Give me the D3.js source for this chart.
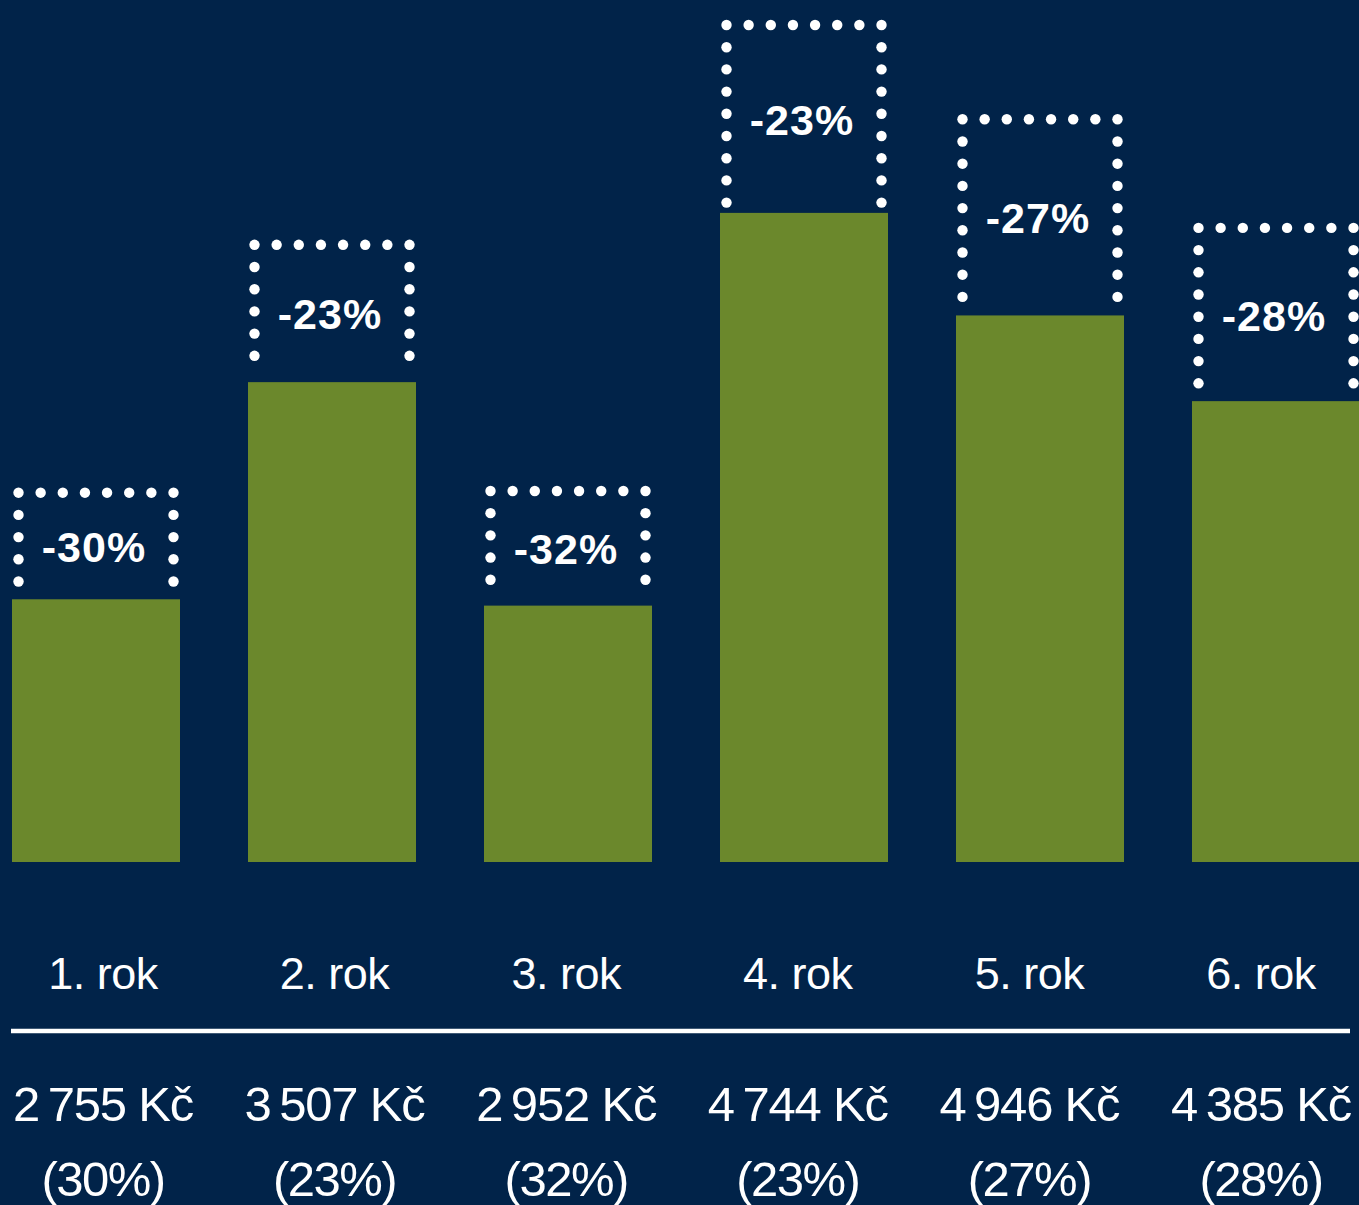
<!DOCTYPE html>
<html>
<head>
<meta charset="utf-8">
<script src="https://cdn.jsdelivr.net/npm/d3@7/dist/d3.min.js"></script>
<style>
  html, body { margin: 0; padding: 0; background: #012349; overflow: hidden; }
  svg { display: block; }
  text { font-family: "Liberation Sans", Arial, Helvetica, sans-serif; fill: #ffffff; }
</style>
</head>
<body>
<svg id="chart" width="1359" height="1205"></svg>
<script>
// ---- data ----
const categories = ["1. rok", "2. rok", "3. rok", "4. rok", "5. rok", "6. rok"];
const originalPrice = [9183, 15248, 9225, 20626, 18319, 15661];   // price before discount (Kč)
const discountedPrice = [6428, 11741, 6273, 15882, 13373, 11276]; // price after discount (Kč)
const savings = [2755, 3507, 2952, 4744, 4946, 4385];              // saving (Kč)
const discountPct = [30, 23, 32, 23, 27, 28];                     // saving (%)

const W = 1359, H = 1205;
const svg = d3.select("#chart");
svg.append("rect").attr("width", W).attr("height", H).attr("fill", "#012349");

const x = d3.scaleBand().domain(categories).range([12, 1360]).paddingInner(68 / 236).paddingOuter(0);
const y = d3.scaleLinear().domain([0, d3.max(originalPrice)]).range([862, 19]);
const xl = d3.scalePoint().domain(categories).range([103, 1261]);

const data = categories.map((c, i) => ({
  cat: c, orig: originalPrice[i], disc: discountedPrice[i], save: savings[i], pct: discountPct[i]
}));

// bars
svg.append("g").selectAll("rect").data(data).join("rect")
  .attr("x", d => x(d.cat))
  .attr("y", d => y(d.disc))
  .attr("width", x.bandwidth())
  .attr("height", d => y(0) - y(d.disc))
  .attr("fill", "#6B882C");

// dotted boxes
const inset = 6.5, step = 22.2, r = 5.2;
const dotsG = svg.append("g");
data.forEach(d => {
  const x0 = x(d.cat) + inset, x1 = x(d.cat) + x.bandwidth() - inset;
  const top = y(d.orig) + 6, barTop = y(d.disc);
  const n = Math.round((x1 - x0) / 22);
  const pts = [];
  for (let k = 0; k <= n; k++) pts.push([x0 + (x1 - x0) * k / n, top]);
  for (let yy = top + step; yy <= barTop - 10; yy += step) {
    pts.push([x0, yy]); pts.push([x1, yy]);
  }
  dotsG.append("g").selectAll("circle").data(pts).join("circle")
    .attr("cx", p => p[0]).attr("cy", p => p[1]).attr("r", r).attr("fill", "#ffffff");
  const mid = (top + barTop) / 2;
  dotsG.append("text")
    .attr("x", x(d.cat) + x.bandwidth() / 2 - 2)
    .attr("y", mid + 16)
    .attr("text-anchor", "middle")
    .attr("font-size", 43).attr("font-weight", "bold").attr("letter-spacing", "1px")
    .text("-" + d.pct + "%");
});

// category labels
svg.append("g").selectAll("text").data(data).join("text")
  .attr("x", d => xl(d.cat)).attr("y", 989)
  .attr("text-anchor", "middle")
  .attr("font-size", 45).attr("letter-spacing", "-0.5px")
  .text(d => d.cat);

// separator line
svg.append("line").attr("x1", 11).attr("x2", 1350).attr("y1", 1031).attr("y2", 1031)
  .attr("stroke", "#ffffff").attr("stroke-width", 4.5);

// savings values
const fmt = v => d3.format(",")(v).replace(/,/g, "\u2009");
svg.append("g").selectAll("text").data(data).join("text")
  .attr("x", d => xl(d.cat)).attr("y", 1121)
  .attr("text-anchor", "middle")
  .attr("font-size", 49).attr("letter-spacing", "-1.2px")
  .text(d => fmt(d.save) + " Kč");

svg.append("g").selectAll("text").data(data).join("text")
  .attr("x", d => xl(d.cat)).attr("y", 1196)
  .attr("text-anchor", "middle")
  .attr("font-size", 49).attr("letter-spacing", "-1.5px")
  .text(d => "(" + d.pct + "%)");
</script>
</body>
</html>
